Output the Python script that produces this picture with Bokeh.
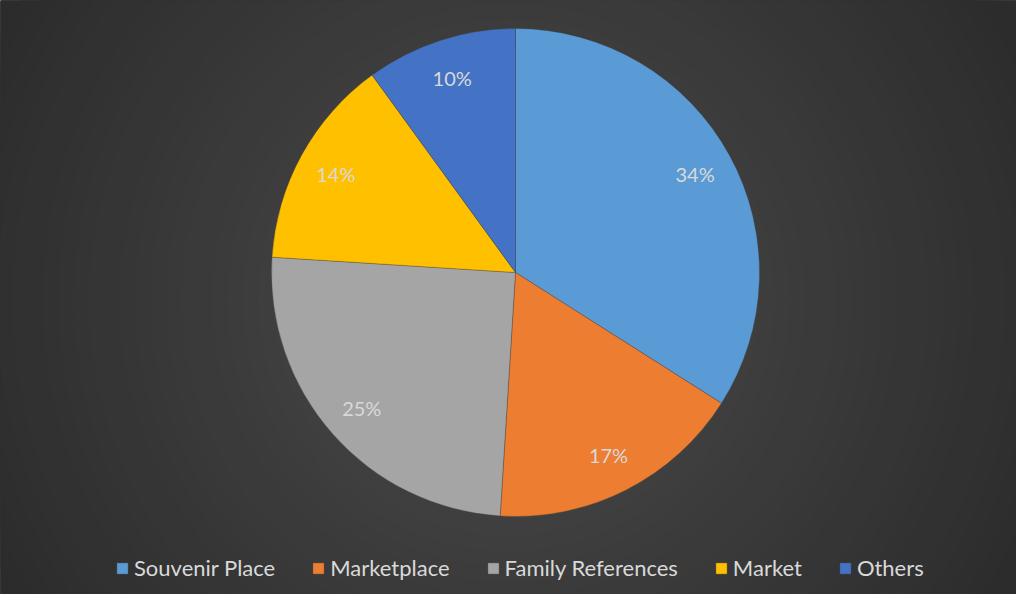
import math
from bokeh.plotting import figure
from bokeh.models import ColumnDataSource, Legend, LegendItem, LabelSet
from bokeh.core.properties import value
from bokeh.embed import file_html
from bokeh.resources import INLINE

categories = ["Souvenir Place", "Marketplace", "Family References", "Market", "Others"]
shares = [34, 17, 25, 14, 10]
colors = ["#5B9BD5", "#ED7D31", "#A5A5A5", "#FFC000", "#4472C4"]
labels = [f"{v}%" for v in shares]

W, H = 1016, 594
CX, CY, R = 515, H - 272, 244
FONT = "Lato"

p = figure(width=W, height=H, x_range=(0, W), y_range=(0, H),
           output_backend="svg", toolbar_location=None, min_border=0)
p.axis.visible = False
p.grid.visible = False
p.outline_line_color = None
p.background_fill_color = "#2a2a2a"
p.border_fill_color = "#2a2a2a"

# radial background gradient
n = 40
bg_sizes = []
bg_cols = []
for i in range(n):
    t = i / (n - 1)
    bg_sizes.append(2 * (620 - 600 * t))
    c0, c1 = 0x2a, 0x4a
    v = int(round(c0 + (c1 - c0) * t))
    bg_cols.append("#%02x%02x%02x" % (v, v, v))
p.scatter(x=[508] * n, y=[H - 300] * n, size=bg_sizes, fill_color=bg_cols,
          line_color=None, marker="circle")

total = sum(shares)
starts, ends, lx, ly = [], [], [], []
cum = 0
for v in shares:
    a0 = math.pi / 2 - 2 * math.pi * cum / total
    a1 = math.pi / 2 - 2 * math.pi * (cum + v) / total
    starts.append(a0)
    ends.append(a1)
    mid = (a0 + a1) / 2
    lx.append(CX + 0.84 * R * math.cos(mid))
    ly.append(CY + 0.84 * R * math.sin(mid))
    cum += v

src = ColumnDataSource(dict(cat=categories, val=shares, color=colors,
                            start=starts, end=ends, lx=lx, ly=ly, lab=labels))

wr = p.wedge(x=CX, y=CY, radius=R, start_angle="start", end_angle="end",
             direction="clock", fill_color="color", line_color="#404040",
             line_alpha=0.35, line_width=1, source=src)

p.add_layout(LabelSet(x="lx", y="ly", text="lab", source=src,
                      text_align="center", text_baseline="middle",
                      text_color="#d9d9d9", text_font=value(FONT),
                      text_font_size="20px"))

items = [LegendItem(label=c, renderers=[wr], index=i) for i, c in enumerate(categories)]
legend = Legend(items=items, orientation="horizontal", location=(115, 13),
                padding=0, margin=0, spacing=36, glyph_width=14, glyph_height=14,
                label_standoff=5, label_text_color="#d9d9d9",
                label_text_font=FONT, label_text_font_size="22px",
                background_fill_alpha=0, border_line_alpha=0)
p.add_layout(legend)

open("out.html", "w").write(file_html(p, INLINE))
